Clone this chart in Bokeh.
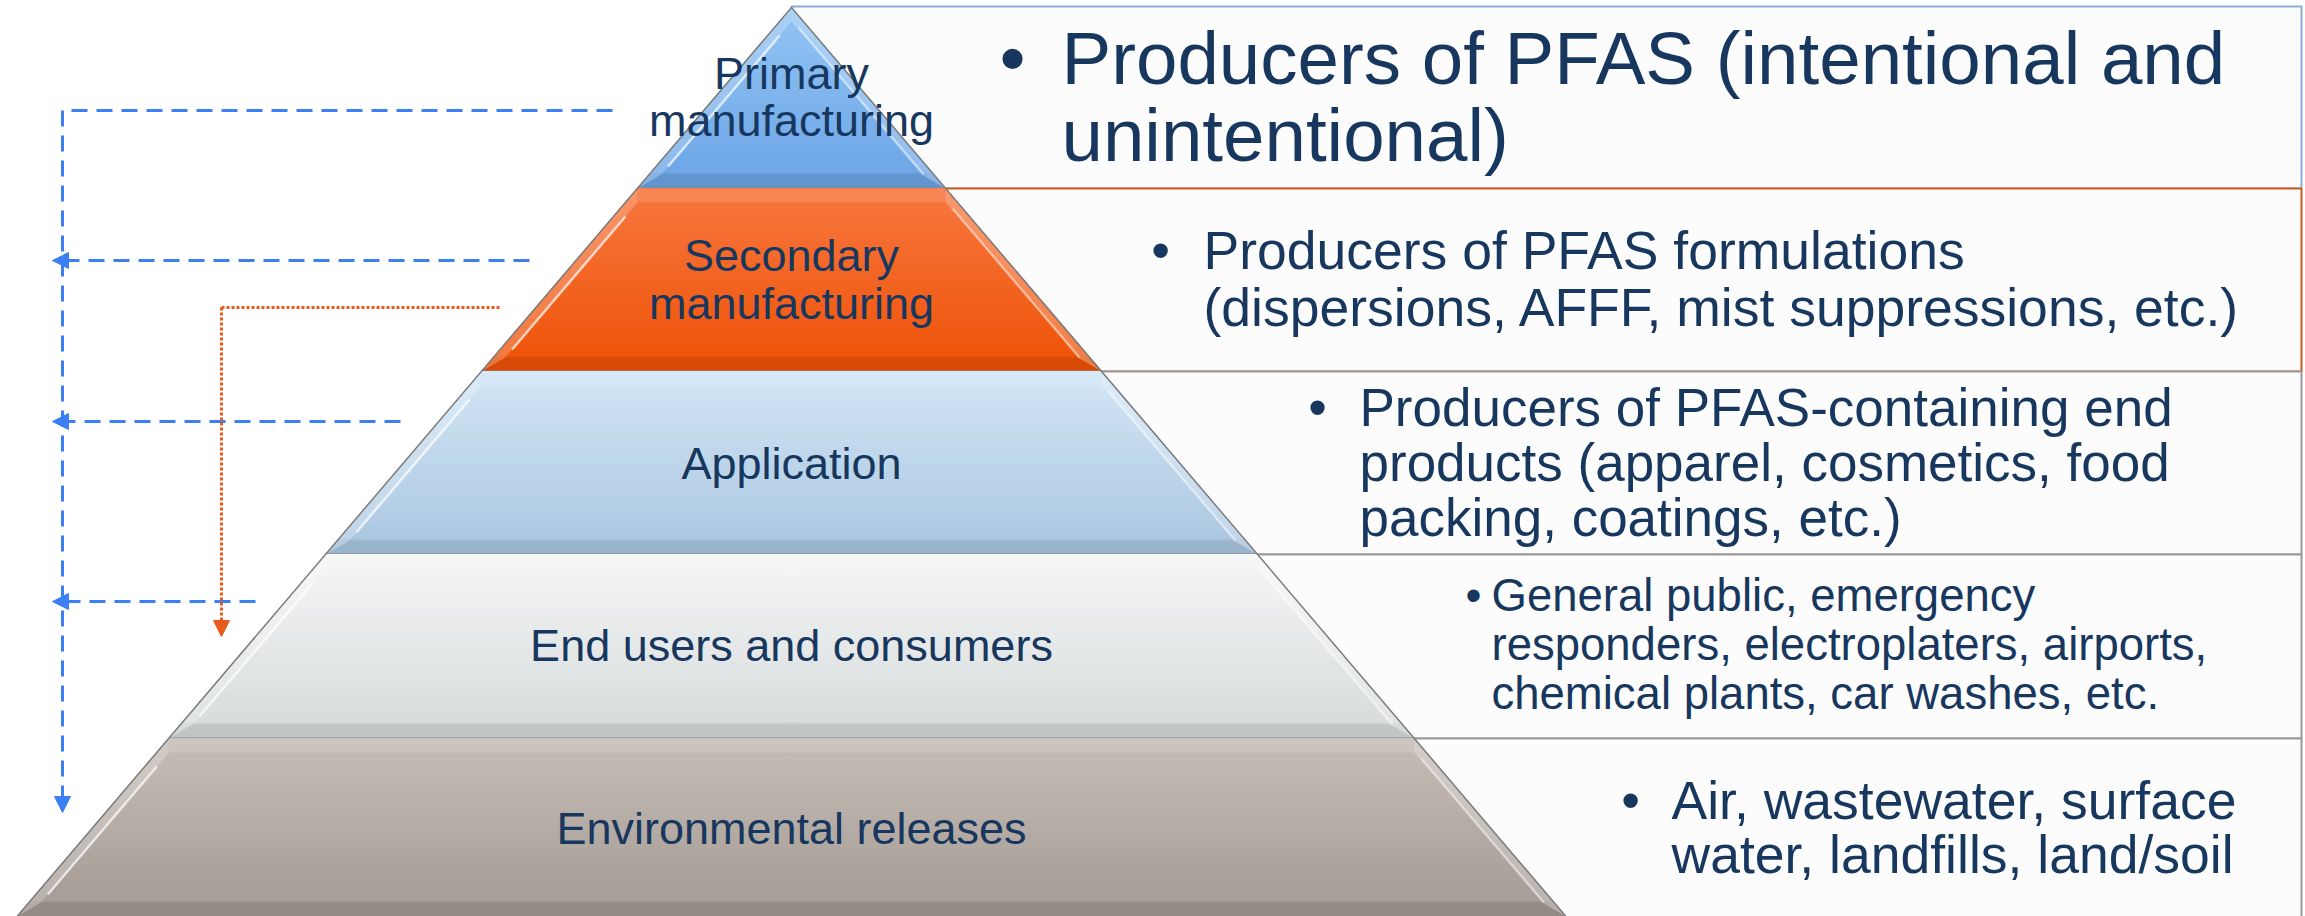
from bokeh.plotting import figure
from bokeh.models import Arrow, NormalHead
from bokeh.core.properties import value
from bokeh.embed import file_html
from bokeh.resources import INLINE

# ---------------- data ----------------
level_names = ["Primary manufacturing", "Secondary manufacturing", "Application",
               "End users and consumers", "Environmental releases"]
level_label_lines = [["Primary", "manufacturing"], ["Secondary", "manufacturing"],
                     ["Application"], ["End users and consumers"], ["Environmental releases"]]
descriptions = [
    ["Producers of PFAS (intentional and", "unintentional)"],
    ["Producers of PFAS formulations", "(dispersions, AFFF, mist suppressions, etc.)"],
    ["Producers of PFAS-containing end", "products (apparel, cosmetics, food", "packing, coatings, etc.)"],
    ["General public, emergency", "responders, electroplaters, airports,", "chemical plants, car washes, etc."],
    ["Air, wastewater, surface", "water, landfills, land/soil"],
]

# ---------------- layout / style ----------------
FONT = value("Liberation Sans")
TXT = "#17375e"
boundaries = [7, 188, 371, 554, 738, 916]
apex_x = 791
half_slope = (1565 - 16) / 2 / (916 - 7)
box_right = 2301
BASE_FIX = 0.34  # baseline correction (fraction of font size)

top_cols = ["#93c5f4", "#f7773f", "#d3e6f6", "#f5f6f6", "#c6bdb7"]
bot_cols = ["#6ba4e6", "#ee5206", "#a9c6e0", "#d6dadb", "#a39a94"]
box_borders = ["#8eaadb", "#cf5a1c", "#9a9a9a", "#9a9a9a", "#9a9a9a"]

label_font = 45
label_baselines = [[88, 135], [270, 318], [478], [660], [843]]
desc_text_x = [1061, 1203, 1359, 1491, 1671]
desc_bullet_x = [1012, 1160, 1317, 1473, 1630]
desc_font = [74.5, 53.5, 53, 45.5, 53.5]
desc_first = [83, 268, 425, 610, 818]
desc_step = [77, 57, 55, 49, 54]

W, H = 2305, 916
p = figure(width=W, height=H, x_range=(0, W), y_range=(-H, 0),
           output_backend="svg", toolbar_location=None, min_border=0)
p.axis.visible = False
p.grid.visible = False
p.outline_line_color = None
p.background_fill_color = "white"
p.border_fill_color = "white"


def Y(v):
    return -v


def xl(y):
    return apex_x - half_slope * (y - boundaries[0])


def xr(y):
    return apex_x + half_slope * (y - boundaries[0])


def mix(c1, c2, f):
    a = [int(c1[i:i + 2], 16) for i in (1, 3, 5)]
    b = [int(c2[i:i + 2], 16) for i in (1, 3, 5)]
    return "#%02x%02x%02x" % tuple(int(round(a[j] + (b[j] - a[j]) * f)) for j in range(3))


# ---------------- boxes (behind pyramid) ----------------
for i in range(5):
    t, b = boundaries[i], boundaries[i + 1]
    if i == 0:
        t = 6
    if i == 4:
        b = 930
    p.quad(left=[apex_x], right=[box_right], top=[Y(t)], bottom=[Y(b)],
           fill_color="#fcfcfc", line_color=box_borders[i], line_width=2)

# ---------------- pyramid ----------------
n = 24
for i in range(5):
    t, b = boundaries[i], boundaries[i + 1]
    xs, ys, cols = [], [], []
    for k in range(n):
        y0 = t + (b - t) * k / n
        y1 = t + (b - t) * (k + 1) / n
        xs.append([xl(y0), xr(y0), xr(y1), xl(y1)])
        ys.append([Y(y0), Y(y0), Y(y1), Y(y1)])
        f = (k + 0.5) / n
        c = mix(top_cols[i], bot_cols[i], f)
        if k >= n - 2:
            c = mix(c, "#000000", 0.05)
        cols.append(c)
    p.patches(xs, ys, fill_color=cols, line_color=cols, line_width=1)

    d, e = 14, 12
    lf = ([xl(t), xl(b), xl(b - d) + e, xl(t + d) + e], [Y(t), Y(b), Y(b - d), Y(t + d)])
    rf = ([xr(t), xr(b), xr(b - d) - e, xr(t + d) - e], [Y(t), Y(b), Y(b - d), Y(t + d)])
    bf = ([xl(b), xr(b), xr(b - d) - e, xl(b - d) + e], [Y(b), Y(b), Y(b - d), Y(b - d)])
    tf = ([xl(t), xr(t), xr(t + d) - e, xl(t + d) + e], [Y(t), Y(t), Y(t + d), Y(t + d)])
    p.patches([lf[0]], [lf[1]], fill_color="white", fill_alpha=0.22, line_color=None)
    p.patches([rf[0]], [rf[1]], fill_color="white", fill_alpha=0.25, line_color=None)
    p.patches([bf[0]], [bf[1]], fill_color="black", fill_alpha=0.05, line_color=None)
    p.patches([tf[0]], [tf[1]], fill_color="white", fill_alpha=0.12, line_color=None)
    p.line([xl(b - d - 8) + e, xl(t + d + 14) + e], [Y(b - d - 8), Y(t + d + 14)],
           line_color="white", line_alpha=0.7, line_width=2.5)
    p.line([xr(b - d) - e + 2, xr(t + d + 6) - e + 2], [Y(b - d), Y(t + d + 6)],
           line_color="white", line_alpha=0.45, line_width=2)
    if i < 4:
        p.line([xl(b), xr(b)], [Y(b), Y(b)], line_color="#85898d", line_width=2)

p.line([xl(boundaries[-1]), apex_x, xr(boundaries[-1])],
       [Y(boundaries[-1]), Y(boundaries[0]), Y(boundaries[-1])],
       line_color="#7c7c7c", line_width=1.5)

# ---------------- labels ----------------
lx, ly, lt = [], [], []
for lines, ys_ in zip(level_label_lines, label_baselines):
    for s, yy in zip(lines, ys_):
        lx.append(apex_x)
        ly.append(Y(yy - BASE_FIX * label_font))
        lt.append(s)
p.text(x=lx, y=ly, text=lt, text_font=FONT, text_font_size="%gpx" % label_font,
       text_color=TXT, text_align="center", text_baseline="alphabetic")

# ---------------- descriptions ----------------
for i, lines in enumerate(descriptions):
    fs = desc_font[i]
    ys_ = [Y(desc_first[i] + j * desc_step[i] - BASE_FIX * fs) for j in range(len(lines))]
    p.text(x=[desc_text_x[i]] * len(lines), y=ys_, text=lines, text_font=FONT,
           text_font_size="%gpx" % fs, text_color=TXT, text_align="left",
           text_baseline="alphabetic")
    p.text(x=[desc_bullet_x[i]], y=[ys_[0]], text=["•"], text_font=FONT,
           text_font_size="%gpx" % fs, text_color=TXT, text_align="center",
           text_baseline="alphabetic")

# ---------------- flow arrows ----------------
BLUE = "#3b7ff2"
ORANGE = "#ea5a1c"
trunk_x = 62
p.line([612, trunk_x], [Y(110), Y(110)], line_color=BLUE, line_width=3, line_dash="16 9")
p.add_layout(Arrow(end=NormalHead(size=16, fill_color=BLUE, line_color=BLUE),
                   x_start=trunk_x, y_start=Y(110), x_end=trunk_x, y_end=Y(812),
                   line_color=BLUE, line_width=3, line_dash="16 9"))
branch_start_x = [529, 400, 255]
branch_y = [260, 421, 601]
for sx, by in zip(branch_start_x, branch_y):
    p.add_layout(Arrow(end=NormalHead(size=16, fill_color=BLUE, line_color=BLUE),
                       x_start=sx, y_start=Y(by), x_end=52, y_end=Y(by),
                       line_color=BLUE, line_width=3, line_dash="16 9"))

p.line([499, 221], [Y(307), Y(307)], line_color=ORANGE, line_width=3, line_dash="3 2")
p.add_layout(Arrow(end=NormalHead(size=16, fill_color=ORANGE, line_color=ORANGE),
                   x_start=221, y_start=Y(307), x_end=221, y_end=Y(636),
                   line_color=ORANGE, line_width=3, line_dash="3 2"))

open("out.html", "w").write(file_html(p, INLINE))
